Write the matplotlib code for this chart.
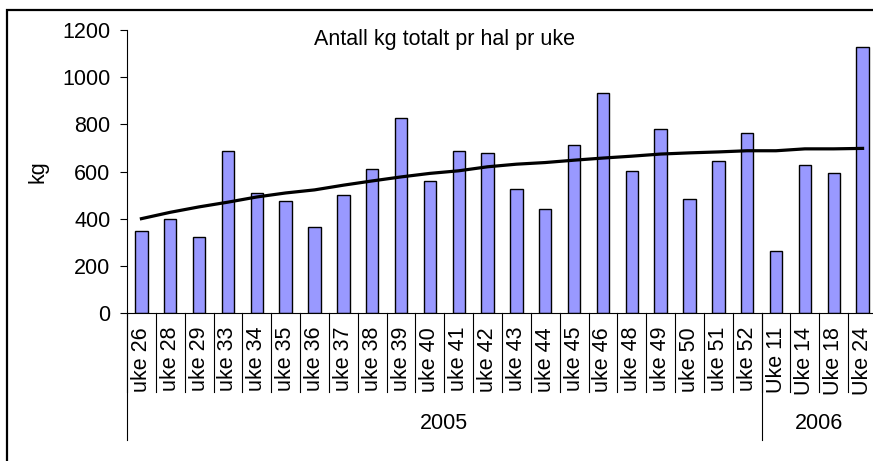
import matplotlib
matplotlib.use("Agg")
import matplotlib.pyplot as plt
import matplotlib.patches as patches
import matplotlib.transforms as mtransforms

plt.rcParams['font.family'] = ['Liberation Sans', 'DejaVu Sans']

# data
weeks = ["uke 26", "uke 28", "uke 29", "uke 33", "uke 34", "uke 35", "uke 36",
         "uke 37", "uke 38", "uke 39", "uke 40", "uke 41", "uke 42", "uke 43",
         "uke 44", "uke 45", "uke 46", "uke 48", "uke 49", "uke 50", "uke 51",
         "uke 52", "Uke 11", "Uke 14", "Uke 18", "Uke 24"]
kg = [348, 399, 323, 688, 509, 475, 365, 501, 611, 825, 560, 686, 679, 526,
      441, 713, 934, 603, 781, 483, 645, 764, 263, 628, 594, 1128]
trend = [400, 427, 450, 470, 492, 509, 522, 542, 560, 577, 592, 603, 620, 631,
         638, 648, 657, 665, 674, 679, 683, 688, 688, 696, 696, 698]
years = ["2005", "2006"]
year_counts = [22, 4]

W, H = 873, 461
fig = plt.figure(figsize=(W / 100, H / 100), dpi=100)
ax = fig.add_axes([127 / W, 1 - 313 / H, 750 / W, 283 / H])

x = list(range(len(weeks)))
ax.bar(x, kg, width=0.43, color="#9999ff", edgecolor="black", linewidth=1.0, zorder=2)
ax.plot(x, trend, color="black", linewidth=2.3, zorder=3)

ax.set_xlim(-0.5, len(weeks) - 0.5)
ax.set_ylim(0, 1200)
ax.set_yticks(range(0, 1201, 200))
ax.tick_params(axis="y", direction="out", length=5, width=0.8, pad=7, labelsize=15.5)
ax.set_xticks(x)
ax.set_xticklabels(weeks, rotation=90, fontsize=15.5)
ax.tick_params(axis="x", length=0, pad=10)

for s in ["top", "right"]:
    ax.spines[s].set_visible(False)
for s in ["left", "bottom"]:
    ax.spines[s].set_linewidth(0.8)

# category separators below the axis
trans = mtransforms.blended_transform_factory(ax.transData, ax.transAxes)
for i in range(len(weeks) + 1):
    ax.plot([i - 0.5, i - 0.5], [0, -0.279], color="black", lw=0.8,
            transform=trans, clip_on=False)

# year groups
start = 0
for yr, n in zip(years, year_counts):
    ax.plot([start - 0.5, start - 0.5], [0, -0.449], color="black", lw=0.8,
            transform=trans, clip_on=False)
    ax.text(start - 0.5 + n / 2, -0.392, yr, transform=trans, ha="center",
            va="center", fontsize=15.5)
    start += n

fig.text(38 / W, 1 - 172 / H, "kg", rotation=90, ha="center", va="center", fontsize=15.5)
fig.text(445 / W, 1 - 39 / H, "Antall kg totalt pr hal pr uke", ha="center",
         va="center", fontsize=15.5)

# outer chart frame
frame = patches.Rectangle((7 / W, -0.1), 1.2, (1 - 10.5 / H) + 0.1, transform=fig.transFigure,
                          fill=False, edgecolor="black", linewidth=1.6)
fig.patches.append(frame)

fig.savefig("out.png", dpi=100)
